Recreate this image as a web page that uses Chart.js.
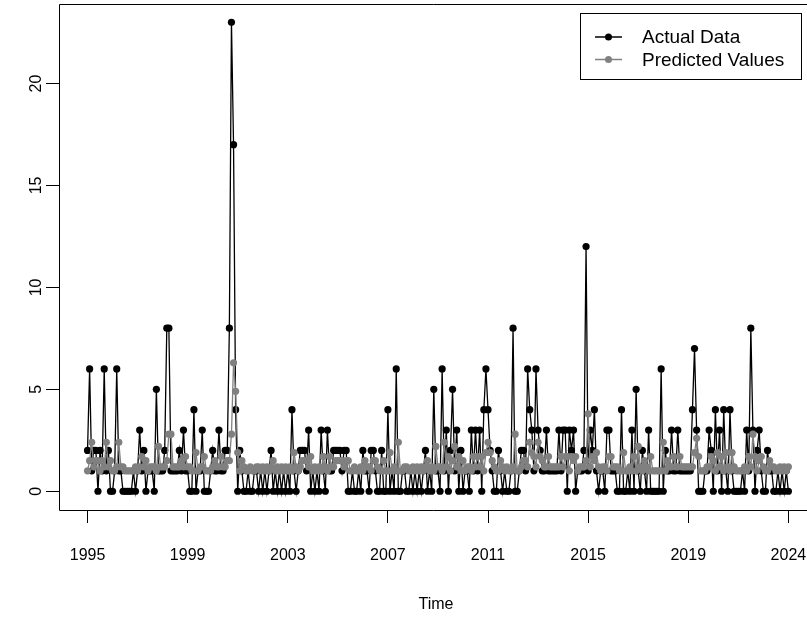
<!DOCTYPE html>
<html>
<head>
<meta charset="utf-8">
<script src="https://cdn.jsdelivr.net/npm/chart.js@4.4.0/dist/chart.umd.min.js"></script>
<style>
  html, body { margin: 0; padding: 0; background: #fff; overflow: hidden; }
</style>
</head>
<body>
<canvas id="myChart" width="807" height="620"></canvas>
<script>
// monthly series, Jan 1995 onwards
var startYear = 1995
var actual = [
  2,6,1,2,2,0,2,1,6,1,2,0,
  0,1,6,1,1,0,0,0,0,0,1,0,
  1,3,1,2,0,1,1,1,0,5,1,1,
  1,2,8,8,1,1,1,1,2,1,3,1,
  1,0,0,4,0,1,1,3,0,0,0,1,
  2,1,1,3,1,1,2,2,8,23,17,4,
  0,2,1,0,0,1,0,0,1,1,0,1,
  0,1,0,1,2,0,1,0,1,0,1,0,
  1,0,4,1,0,1,2,2,2,1,3,0,
  1,0,1,0,3,1,0,3,1,1,2,2,
  2,2,1,2,2,0,0,1,0,0,1,0,
  2,1,1,0,2,2,1,0,0,2,0,0,
  4,0,1,0,6,0,0,1,1,0,0,1,
  0,1,0,1,0,1,2,0,1,0,5,1,
  1,0,6,1,3,0,2,5,1,3,0,2,
  0,1,1,0,3,1,3,1,3,0,4,6,
  4,2,1,0,0,2,1,0,1,0,0,1,
  8,0,0,1,2,2,1,6,4,3,1,6,
  3,2,1,1,3,1,1,1,1,1,3,1,
  3,3,0,3,2,3,0,1,1,1,2,12,
  1,3,2,4,1,0,1,1,0,3,3,1,
  1,1,0,0,4,0,0,1,0,3,0,5,
  1,0,2,1,0,3,0,0,0,0,0,6,
  0,2,1,1,3,1,1,3,1,1,1,1,
  1,1,4,7,3,0,0,0,1,1,3,2,
  0,4,1,3,0,4,1,0,4,1,0,0,
  0,0,1,0,3,1,8,3,0,2,3,1,
  0,0,2,1,1,0,0,1,0,1,0,1,
  0
]
var predicted = [
  1.0,1.5,2.4,1.2,1.5,1.5,1.0,1.5,1.2,2.4,1.2,1.5,
  1.0,1.0,1.2,2.4,1.2,1.2,1.0,1.0,1.0,1.0,1.0,1.2,
  1.0,1.2,1.7,1.2,1.5,1.0,1.2,1.2,1.2,1.0,2.2,1.2,
  1.2,1.2,1.5,2.8,2.8,1.2,1.2,1.2,1.2,1.5,1.2,1.7,
  1.2,1.2,1.0,1.0,1.9,1.0,1.2,1.2,1.7,1.0,1.0,1.0,
  1.2,1.5,1.2,1.2,1.7,1.2,1.2,1.5,1.5,2.8,6.3,4.9,
  1.9,1.0,1.5,1.2,1.0,1.0,1.2,1.0,1.0,1.2,1.2,1.0,
  1.2,1.0,1.2,1.0,1.2,1.5,1.0,1.2,1.0,1.2,1.0,1.2,
  1.0,1.2,1.0,1.9,1.2,1.0,1.2,1.5,1.5,1.5,1.2,1.7,
  1.0,1.2,1.0,1.2,1.0,1.7,1.2,1.0,1.7,1.2,1.2,1.5,
  1.5,1.5,1.5,1.2,1.5,1.5,1.0,1.0,1.2,1.0,1.0,1.2,
  1.0,1.5,1.2,1.2,1.0,1.5,1.5,1.2,1.0,1.0,1.5,1.0,
  1.0,1.9,1.0,1.2,1.0,2.4,1.0,1.0,1.2,1.2,1.0,1.0,
  1.2,1.0,1.2,1.0,1.2,1.0,1.2,1.5,1.0,1.2,1.0,2.2,
  1.2,1.2,1.0,2.4,1.2,1.7,1.0,1.5,2.2,1.2,1.7,1.0,
  1.5,1.0,1.2,1.2,1.0,1.7,1.2,1.7,1.2,1.7,1.0,1.9,
  2.4,1.9,1.5,1.2,1.0,1.0,1.5,1.2,1.0,1.2,1.0,1.0,
  1.2,2.8,1.0,1.0,1.2,1.5,1.5,1.2,2.4,1.9,1.7,1.2,
  2.4,1.7,1.5,1.2,1.2,1.7,1.2,1.2,1.2,1.2,1.2,1.7,
  1.2,1.7,1.7,1.0,1.7,1.5,1.7,1.0,1.2,1.2,1.2,1.5,
  3.8,1.2,1.7,1.5,1.9,1.2,1.0,1.2,1.2,1.0,1.7,1.7,
  1.2,1.2,1.2,1.0,1.0,1.9,1.0,1.0,1.2,1.0,1.7,1.0,
  2.2,1.2,1.0,1.5,1.2,1.0,1.7,1.0,1.0,1.0,1.0,1.0,
  2.4,1.0,1.5,1.2,1.2,1.7,1.2,1.2,1.7,1.2,1.2,1.2,
  1.2,1.2,1.2,1.9,2.6,1.7,1.0,1.0,1.0,1.2,1.2,1.7,
  1.5,1.0,1.9,1.2,1.7,1.0,1.9,1.2,1.0,1.9,1.2,1.0,
  1.0,1.0,1.0,1.2,1.0,1.7,1.2,2.8,1.7,1.0,1.5,1.7,
  1.2,1.0,1.0,1.5,1.2,1.2,1.0,1.0,1.2,1.0,1.2,1.0,
  1.2
]
var xTicks = [1995, 1999, 2003, 2007, 2011, 2015, 2019, 2023]
var xTickLabels = ['1995', '1999', '2003', '2007', '2011', '2015', '2019', '2024']
var yTicks = [0, 5, 10, 15, 20]
var seriesNames = ['Actual Data', 'Predicted Values']
var seriesColors = ['#000000', '#808080']

var font = 'Liberation Sans, Arial, Helvetica, sans-serif'

function toPoints(arr) {
  return arr.map(function (v, i) { return { x: startYear + i / 12, y: v } })
}

// box round the plot (right side runs off the picture), axis labels, x title, legend
var rStyle = {
  id: 'rStyle',
  afterDraw: function (chart) {
    var c = chart.ctx
    var a = chart.chartArea
    var xs = chart.scales.x
    var ys = chart.scales.y
    var L = Math.round(a.left) + 0.5, T = Math.round(a.top) + 0.5, B = Math.round(a.bottom) + 0.5
    c.save()
    c.strokeStyle = '#000'
    c.lineWidth = 1
    c.beginPath()
    c.moveTo(chart.width, T)
    c.lineTo(L, T)
    c.lineTo(L, B)
    c.lineTo(chart.width, B)
    c.stroke()

    c.fillStyle = '#000'
    c.font = '16px ' + font
    c.textAlign = 'center'
    c.textBaseline = 'middle'
    yTicks.forEach(function (v) {
      c.save()
      c.translate(37, ys.getPixelForValue(v))
      c.rotate(-Math.PI / 2)
      c.fillText(String(v), 0, 0)
      c.restore()
    })
    xTicks.forEach(function (v, k) {
      c.fillText(xTickLabels[k], xs.getPixelForValue(v), 556)
    })
    c.fillText('Time', a.left + (a.right - a.left + 9.5) / 2, 605)

    // legend
    var lx = 580, ly = 13, lw = 221, lh = 66
    c.fillStyle = '#fff'
    c.fillRect(lx, ly, lw, lh)
    c.strokeStyle = '#000'
    c.strokeRect(lx + 0.5, ly + 0.5, lw, lh)
    c.textAlign = 'left'
    c.font = '19px ' + font
    seriesNames.forEach(function (name, k) {
      var yy = ly + 24 + k * 22.5
      c.strokeStyle = seriesColors[k]
      c.lineWidth = 1.5
      c.beginPath()
      c.moveTo(595, yy)
      c.lineTo(622, yy)
      c.stroke()
      c.fillStyle = seriesColors[k]
      c.beginPath()
      c.arc(608.5, yy, 3.5, 0, Math.PI * 2)
      c.fill()
      c.fillStyle = '#000'
      c.fillText(name, 642, yy + 1)
    })
    c.restore()
  }
}

var ctx = document.getElementById('myChart').getContext('2d')
var chart = new Chart(ctx, {
  type: 'line',
  data: {
    datasets: [{
      label: seriesNames[0],
      data: toPoints(actual),
      borderColor: seriesColors[0],
      backgroundColor: seriesColors[0],
      borderWidth: 1.3,
      pointRadius: 3.6,
      pointBorderWidth: 0,
      pointHoverRadius: 3.6,
      tension: 0,
      order: 2
    }, {
      label: seriesNames[1],
      data: toPoints(predicted),
      borderColor: seriesColors[1],
      backgroundColor: seriesColors[1],
      borderWidth: 1.3,
      pointRadius: 3.6,
      pointBorderWidth: 0,
      pointHoverRadius: 3.6,
      tension: 0,
      order: 1
    }]
  },
  options: {
    responsive: false,
    animation: false,
    devicePixelRatio: 1,
    layout: { padding: { top: 3, right: 0, left: 0, bottom: 0 } },
    plugins: { legend: { display: false }, tooltip: { enabled: false } },
    scales: {
      x: {
        type: 'linear',
        min: 1993.86,
        max: 2023.6,
        afterBuildTicks: function (axis) {
          axis.ticks = xTicks.map(function (v) { return { value: v } })
        },
        afterFit: function (axis) { axis.height = 110 },
        grid: { drawOnChartArea: false, drawTicks: true, tickLength: 13, color: '#000', lineWidth: 1 },
        border: { display: false },
        ticks: { display: false }
      },
      y: {
        min: -0.92,
        max: 23.92,
        afterBuildTicks: function (axis) {
          axis.ticks = yTicks.map(function (v) { return { value: v } })
        },
        afterFit: function (axis) { axis.width = 59 },
        grid: { drawOnChartArea: false, drawTicks: true, tickLength: 13, color: '#000', lineWidth: 1 },
        border: { display: false },
        ticks: { display: false }
      }
    }
  },
  plugins: [rStyle]
})
</script>
</body>
</html>
